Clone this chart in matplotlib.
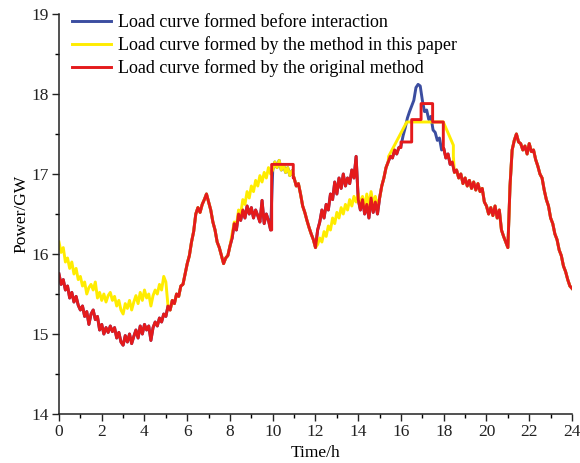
import matplotlib

matplotlib.use("Agg")

import matplotlib.pyplot as plt
import numpy as np
from matplotlib.ticker import MultipleLocator

# load sampled every 0.1 h, 0..24 h (GW) - curve before interaction
HOURS = np.round(np.arange(0, 241) * 0.1, 1)
LOAD_BEFORE = [
    15.75, 15.62, 15.68, 15.55, 15.60, 15.45, 15.52, 15.40, 15.47, 15.36,
    15.30, 15.35, 15.22, 15.28, 15.12, 15.25, 15.30, 15.18, 15.22, 15.05,
    15.12, 15.00, 15.08, 15.02, 15.10, 15.03, 15.08, 14.95, 15.02, 14.90,
    14.86, 14.98, 14.90, 15.00, 14.88, 14.97, 15.05, 14.95, 15.10, 15.00,
    15.12, 15.05, 15.10, 14.92, 15.08, 15.15, 15.10, 15.20, 15.15, 15.25,
    15.22, 15.35, 15.30, 15.42, 15.38, 15.50, 15.47, 15.60, 15.62, 15.75,
    15.88, 15.98, 16.15, 16.28, 16.50, 16.58, 16.52, 16.62, 16.68, 16.75,
    16.65, 16.55, 16.40, 16.30, 16.15, 16.08, 15.98, 15.88, 15.95, 15.98,
    16.10, 16.20, 16.38, 16.30, 16.50, 16.42, 16.55, 16.45, 16.60, 16.50,
    16.58, 16.45, 16.55, 16.48, 16.40, 16.67, 16.38, 16.50, 16.42, 16.30,
    17.05, 17.15, 17.08, 17.17, 17.05, 17.12, 17.02, 17.08, 16.98, 17.04,
    16.95, 16.85, 16.88, 16.75, 16.60, 16.52, 16.42, 16.33, 16.25, 16.18,
    16.08, 16.30, 16.40, 16.55, 16.45, 16.62, 16.55, 16.75, 16.68, 16.90,
    16.75, 16.95, 16.82, 17.00, 16.85, 16.95, 16.88, 17.05, 16.95, 17.22,
    16.68, 16.55, 16.68, 16.50, 16.62, 16.45, 16.70, 16.52, 16.65, 16.50,
    16.70, 16.85, 16.95, 17.08, 17.15, 17.22, 17.20, 17.30, 17.25, 17.33,
    17.35, 17.48, 17.58, 17.70, 17.78, 17.85, 17.92, 18.08, 18.12, 18.10,
    17.92, 17.78, 17.80, 17.68, 17.72, 17.55, 17.52, 17.42, 17.45, 17.30,
    17.32, 17.20, 17.25, 17.12, 17.15, 17.02, 17.05, 16.95, 17.00, 16.88,
    16.95, 16.85, 16.92, 16.82, 16.90, 16.80, 16.88, 16.78, 16.82, 16.65,
    16.60, 16.50, 16.58, 16.48, 16.60, 16.45, 16.55, 16.30, 16.22, 16.15,
    16.08, 16.85, 17.30, 17.42, 17.50, 17.40, 17.38, 17.30, 17.35, 17.25,
    17.38, 17.28, 17.30, 17.18, 17.10, 17.00, 16.95, 16.80, 16.68, 16.60,
    16.45, 16.38, 16.25, 16.18, 16.05, 15.98, 15.85, 15.78, 15.68, 15.60,
    15.57,
]

# original method: flat caps (start h, end h, level GW)
ORIGINAL_CAPS = [
    (9.95, 10.96, 17.12),
    (16.00, 16.50, 17.40),
    (16.50, 16.94, 17.68),
    (16.94, 17.48, 17.88),
    (17.48, 17.98, 17.65),
]

# method in this paper: reshaped segments
PAPER_NIGHT_HOURS = HOURS[:51]
PAPER_NIGHT = [
    16.15, 16.02, 16.08, 15.90, 15.95, 15.82, 15.90, 15.75, 15.82, 15.68,
    15.72, 15.60, 15.65, 15.50, 15.58, 15.62, 15.55, 15.65, 15.45, 15.52,
    15.42, 15.50, 15.40, 15.48, 15.52, 15.42, 15.47, 15.35, 15.42, 15.30,
    15.25, 15.38, 15.32, 15.42, 15.30, 15.40, 15.48, 15.38, 15.52, 15.42,
    15.55, 15.45, 15.50, 15.35, 15.48, 15.55, 15.50, 15.62, 15.55, 15.72,
    15.65,
]
PAPER_MORNING_HOURS = HOURS[81:100]
PAPER_MORNING = [
    16.25, 16.40, 16.35, 16.55, 16.50, 16.68, 16.62, 16.78, 16.70, 16.85,
    16.78, 16.92, 16.85, 16.98, 16.90, 17.02, 16.95, 17.08, 17.00,
]
PAPER_NOON_HOURS = HOURS[121:150]
PAPER_NOON = [
    16.12, 16.20, 16.15, 16.28, 16.22, 16.35, 16.30, 16.45, 16.38, 16.52,
    16.45, 16.58, 16.50, 16.62, 16.55, 16.68, 16.60, 16.72, 16.65, 16.75,
    16.60, 16.72, 16.58, 16.75, 16.60, 16.78, 16.62, 16.72, 16.60,
]
PAPER_PEAK_HOURS = [15.42, 16.27, 17.98, 18.45, 18.45]
PAPER_PEAK = [17.22, 17.65, 17.65, 17.36, 17.22]

LEGEND_LABELS = [
    "Load curve formed before interaction",
    "Load curve formed by the method in this paper",
    "Load curve formed by the original method",
]
COLORS = ["#3b4da0", "#ffec00", "#e41a1c"]


def with_caps(hours, values, caps):
    """Replace the samples inside each (start, end) window by a flat level."""
    hours = np.asarray(hours)
    values = np.asarray(values)
    xs, ys = [], []
    i = 0
    for k, (start, end, level) in enumerate(caps):
        while i < len(hours) and hours[i] < start:
            xs.append(hours[i])
            ys.append(values[i])
            i += 1
        xs += [start, start, end]
        ys += [ys[-1], level, level]
        while i < len(hours) and hours[i] <= end:
            i += 1
        chained = k + 1 < len(caps) and caps[k + 1][0] == end
        if not chained and i < len(hours):
            xs.append(end)
            ys.append(values[i])
    xs += list(hours[i:])
    ys += list(values[i:])
    return np.array(xs), np.array(ys)


def with_segment(hours, values, seg_hours, seg_values):
    hours = np.asarray(hours)
    values = np.asarray(values)
    lo, hi = seg_hours[0], seg_hours[-1]
    xs = np.concatenate([hours[hours < lo], seg_hours, hours[hours > hi]])
    ys = np.concatenate([values[hours < lo], seg_values, values[hours > hi]])
    return xs, ys


paper_x, paper_y = HOURS, np.array(LOAD_BEFORE)
for seg_x, seg_y in [
    (PAPER_NIGHT_HOURS, PAPER_NIGHT),
    (PAPER_MORNING_HOURS, PAPER_MORNING),
    (PAPER_NOON_HOURS, PAPER_NOON),
    (PAPER_PEAK_HOURS, PAPER_PEAK),
]:
    paper_x, paper_y = with_segment(paper_x, paper_y, np.asarray(seg_x), np.asarray(seg_y))

orig_x, orig_y = with_caps(HOURS, LOAD_BEFORE, ORIGINAL_CAPS)

plt.rcParams["font.family"] = ["Liberation Serif", "DejaVu Serif"]

fig = plt.figure(figsize=(5.8, 4.63), dpi=100)
ax = fig.add_axes([0.1017, 0.1058, 0.8845, 0.864])

lw = 2.1
ax.plot(HOURS, LOAD_BEFORE, color=COLORS[0], lw=lw, label=LEGEND_LABELS[0])
ax.plot(paper_x, paper_y, color=COLORS[1], lw=lw, label=LEGEND_LABELS[1])
ax.plot(orig_x, orig_y, color=COLORS[2], lw=lw, label=LEGEND_LABELS[2])

ax.set_xlim(0, 24)
ax.set_ylim(14, 19)
ax.xaxis.set_major_locator(MultipleLocator(2))
ax.xaxis.set_minor_locator(MultipleLocator(1))
ax.yaxis.set_major_locator(MultipleLocator(1))
ax.yaxis.set_minor_locator(MultipleLocator(0.5))
ax.tick_params(which="major", direction="out", length=5, width=1, pad=2,
               labelsize=12.5, colors="#222222")
ax.tick_params(which="minor", direction="out", length=3, width=1)
ax.spines["top"].set_visible(False)
ax.spines["right"].set_visible(False)
for side in ("left", "bottom"):
    ax.spines[side].set_linewidth(1.1)
    ax.spines[side].set_color("#222222")

ax.set_xlabel("Time/h", fontsize=12.5, labelpad=4)
ax.set_ylabel("Power/GW", fontsize=12.5, labelpad=2)

ax.legend(
    loc="upper left",
    bbox_to_anchor=(-0.007, 1.04),
    frameon=False,
    fontsize=13,
    handlelength=2.2,
    handletextpad=0.35,
    labelspacing=0.28,
)

fig.savefig("out.png", dpi=100)
